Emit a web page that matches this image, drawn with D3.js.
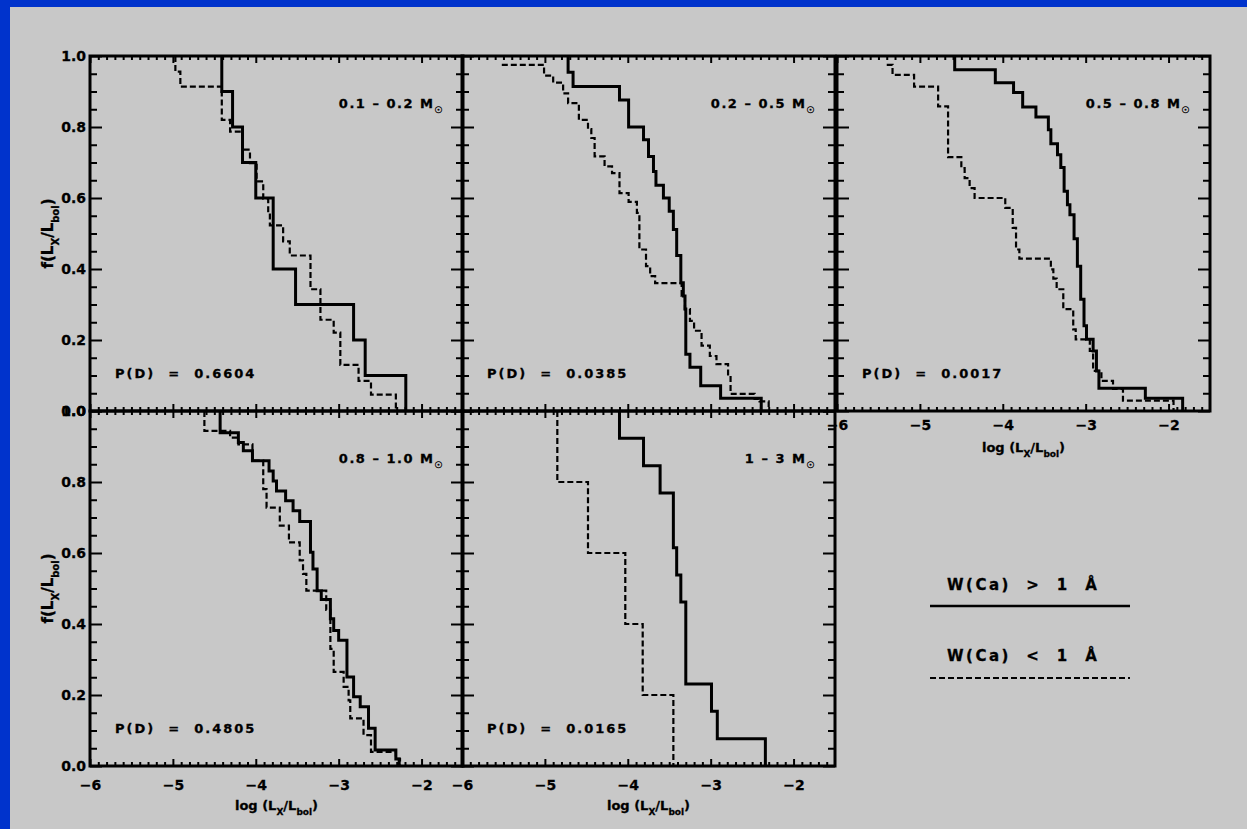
<!DOCTYPE html>
<html>
<head>
<meta charset="utf-8">
<script src="https://cdn.jsdelivr.net/npm/d3@7"></script>
<style>
  html, body { margin: 0; padding: 0; background: #0033cc; }
  svg { display: block; }
  text { font-family: "DejaVu Sans", sans-serif; font-weight: bold; fill: #000; stroke: #000; stroke-width: 0.3; }
</style>
</head>
<body>
<svg id="chart" width="1247" height="829"></svg>
<script>
/* ============================================================
   Cumulative L_X/L_bol distributions, split by W(Ca) — 5 mass bins
   ============================================================ */

// ---- data ----
const massBins = ['0.1 – 0.2', '0.2 – 0.5', '0.5 – 0.8', '0.8 – 1.0', '1 – 3'];
const pValues = ['0.6604', '0.0385', '0.0017', '0.4805', '0.0165'];
const xTicks = [-6, -5, -4, -3, -2];
const yTicks = [0, 0.2, 0.4, 0.6, 0.8, 1.0];
const legendLabels = ['W(Ca) > 1 Å', 'W(Ca) < 1 Å'];

// steps as [log(Lx/Lbol), fraction] — solid: W(Ca) > 1 A, dashed: W(Ca) < 1 A
const solid1 = [[-4.41, 1.0], [-4.41, 0.9], [-4.28, 0.8], [-4.16, 0.7], [-4.00, 0.6], [-3.79, 0.4],
  [-3.52, 0.3], [-2.82, 0.2], [-2.68, 0.1], [-2.19, 0]];
const dashed1 = [[-4.97, 1.0], [-4.97, 0.956], [-4.91, 0.914], [-4.41, 0.820], [-4.31, 0.787], [-4.16, 0.736],
  [-4.07, 0.698], [-3.99, 0.647], [-3.91, 0.598], [-3.85, 0.558], [-3.83, 0.523], [-3.67, 0.478],
  [-3.59, 0.438], [-3.34, 0.343], [-3.22, 0.257], [-3.06, 0.221], [-2.98, 0.130], [-2.76, 0.085],
  [-2.61, 0.046], [-2.31, 0]];

const solid2 = [[-4.72, 1.0], [-4.72, 0.954], [-4.66, 0.914], [-4.10, 0.876], [-3.99, 0.800], [-3.81, 0.764],
  [-3.75, 0.717], [-3.69, 0.675], [-3.66, 0.636], [-3.57, 0.600], [-3.50, 0.563], [-3.45, 0.511],
  [-3.41, 0.438], [-3.36, 0.361], [-3.33, 0.324], [-3.31, 0.287], [-3.30, 0.160], [-3.25, 0.123],
  [-3.12, 0.071], [-2.88, 0.036], [-2.39, 0]];
const dashed2 = [[-5.52, 0.975], [-5.01, 0.945], [-4.90, 0.925], [-4.78, 0.895], [-4.72, 0.867], [-4.59, 0.820],
  [-4.48, 0.794], [-4.44, 0.769], [-4.40, 0.717], [-4.28, 0.689], [-4.19, 0.670], [-4.10, 0.614],
  [-3.99, 0.589], [-3.89, 0.558], [-3.86, 0.455], [-3.78, 0.408], [-3.73, 0.380], [-3.67, 0.360],
  [-3.35, 0.324], [-3.31, 0.287], [-3.25, 0.254], [-3.20, 0.226], [-3.11, 0.184], [-3.01, 0.155],
  [-2.93, 0.132], [-2.79, 0.099], [-2.76, 0.048], [-2.47, 0.034], [-2.41, 0.027], [-2.30, 0]];

const solid3 = [[-4.58, 1.0], [-4.58, 0.961], [-4.09, 0.925], [-3.87, 0.897], [-3.76, 0.856], [-3.60, 0.828],
  [-3.45, 0.792], [-3.42, 0.753], [-3.34, 0.722], [-3.30, 0.686], [-3.26, 0.619], [-3.22, 0.581],
  [-3.19, 0.553], [-3.14, 0.485], [-3.10, 0.408], [-3.06, 0.315], [-3.02, 0.240], [-2.99, 0.202],
  [-2.91, 0.169], [-2.87, 0.113], [-2.84, 0.064], [-2.28, 0.036], [-1.83, 0]];
const dashed3 = [[-5.40, 0.975], [-5.33, 0.947], [-5.07, 0.914], [-4.78, 0.858], [-4.66, 0.715], [-4.50, 0.684],
  [-4.46, 0.656], [-4.40, 0.628], [-4.34, 0.600], [-3.97, 0.572], [-3.88, 0.516], [-3.84, 0.455],
  [-3.80, 0.429], [-3.42, 0.399], [-3.39, 0.373], [-3.35, 0.343], [-3.27, 0.287], [-3.15, 0.230],
  [-3.12, 0.202], [-2.95, 0.169], [-2.91, 0.113], [-2.81, 0.085], [-2.67, 0.062], [-2.55, 0.029],
  [-1.94, 0]];

const solid4 = [[-4.43, 1.0], [-4.43, 0.939], [-4.21, 0.911], [-4.15, 0.888], [-4.04, 0.860], [-3.84, 0.831],
  [-3.79, 0.803], [-3.75, 0.775], [-3.64, 0.747], [-3.55, 0.719], [-3.47, 0.689], [-3.34, 0.602],
  [-3.31, 0.555], [-3.26, 0.494], [-3.21, 0.469], [-3.10, 0.415], [-3.06, 0.382], [-3.00, 0.354],
  [-2.90, 0.251], [-2.82, 0.195], [-2.74, 0.167], [-2.64, 0.106], [-2.56, 0.045], [-2.31, 0.020],
  [-2.27, 0]];
const dashed4 = [[-4.62, 1.0], [-4.62, 0.944], [-4.31, 0.925], [-4.21, 0.906], [-4.04, 0.860], [-3.91, 0.780],
  [-3.87, 0.728], [-3.71, 0.677], [-3.60, 0.630], [-3.47, 0.579], [-3.43, 0.541], [-3.39, 0.494],
  [-3.15, 0.440], [-3.10, 0.330], [-3.06, 0.265], [-2.94, 0.223], [-2.88, 0.185], [-2.86, 0.134],
  [-2.70, 0.087], [-2.61, 0.040], [-2.31, 0.020], [-2.26, 0]];

const solid5 = [[-4.10, 1.0], [-4.10, 0.923], [-3.81, 0.846], [-3.61, 0.769], [-3.45, 0.615], [-3.41, 0.538],
  [-3.36, 0.462], [-3.30, 0.231], [-2.99, 0.154], [-2.92, 0.077], [-2.34, 0]];
const dashed5 = [[-4.85, 1.0], [-4.85, 0.8], [-4.48, 0.6], [-4.03, 0.4], [-3.82, 0.2], [-3.45, 0]];

(() => {
  const W = 1247, H = 829;
  const colX = [90, 462, 837];
  const rowY = [56, 411];
  const pw = 373, ph = 355;
  const fontSize = 13;

  const panels = [
    { col: 0, row: 0, solid: solid1, dashed: dashed1, yLabels: true,  xLabels: false },
    { col: 1, row: 0, solid: solid2, dashed: dashed2, yLabels: false, xLabels: false },
    { col: 2, row: 0, solid: solid3, dashed: dashed3, yLabels: false, xLabels: true  },
    { col: 0, row: 1, solid: solid4, dashed: dashed4, yLabels: true,  xLabels: true  },
    { col: 1, row: 1, solid: solid5, dashed: dashed5, yLabels: false, xLabels: true  },
  ];

  const svg = d3.select('#chart');
  svg.append('rect')
    .attr('x', 10).attr('y', 7).attr('width', W - 10).attr('height', H - 7)
    .attr('fill', '#c8c8c8');

  const x = d3.scaleLinear().domain([-6, -1.5]).range([0, pw]);
  const y = d3.scaleLinear().domain([0, 1]).range([ph, 0]);
  const xMinor = d3.range(-60, -15).map(v => v / 10).filter(v => !Number.isInteger(v));
  const yMinor = d3.range(0, 21).map(v => v / 20).filter(v => (v * 5) % 1 !== 0);

  const step = d3.line()
    .x(d => x(d[0]))
    .y(d => y(d[1]))
    .curve(d3.curveStepAfter);

  // subscript helper: parts = [[text, isSub], ...]
  function richText(sel, parts, subSize) {
    parts.forEach(([t, sub]) => {
      const ts = sel.append('tspan').text(t);
      if (sub) ts.attr('font-size', subSize).attr('baseline-shift', 'sub');
    });
    return sel;
  }

  function styleAxis(g) {
    g.select('.domain').remove();
    g.selectAll('line').attr('stroke', '#000').attr('stroke-width', 2);
    g.attr('font-family', null).attr('font-size', 14);
    g.selectAll('text').attr('fill', '#000');
  }

  panels.forEach((p, i) => {
    const g = svg.append('g')
      .attr('transform', `translate(${colX[p.col]},${rowY[p.row]})`);

    const clipId = 'clip' + i;
    g.append('clipPath').attr('id', clipId)
      .append('rect').attr('width', pw).attr('height', ph);

    // Curves
    const curves = g.append('g').attr('clip-path', `url(#${clipId})`);
    curves.append('path')
      .attr('d', step(p.dashed))
      .attr('fill', 'none').attr('stroke', '#000')
      .attr('stroke-width', 2.2).attr('stroke-dasharray', '6,3');
    curves.append('path')
      .attr('d', step(p.solid))
      .attr('fill', 'none').attr('stroke', '#000')
      .attr('stroke-width', 3);

    // Axes — ticks point inward on all four sides
    g.append('g')
      .call(d3.axisLeft(y).tickValues(yTicks).tickSize(-12).tickPadding(4)
        .tickFormat(p.yLabels ? d3.format('.1f') : ''))
      .call(styleAxis);
    g.append('g')
      .call(d3.axisLeft(y).tickValues(yMinor).tickSize(-7).tickFormat(''))
      .call(styleAxis);
    g.append('g').attr('transform', `translate(${pw},0)`)
      .call(d3.axisRight(y).tickValues(yTicks).tickSize(-12).tickFormat(''))
      .call(styleAxis);
    g.append('g').attr('transform', `translate(${pw},0)`)
      .call(d3.axisRight(y).tickValues(yMinor).tickSize(-7).tickFormat(''))
      .call(styleAxis);
    g.append('g')
      .call(d3.axisTop(x).tickValues(xTicks).tickSize(-7).tickFormat(''))
      .call(styleAxis);
    g.append('g')
      .call(d3.axisTop(x).tickValues(xMinor).tickSize(-4).tickFormat(''))
      .call(styleAxis);
    g.append('g').attr('transform', `translate(0,${ph})`)
      .call(d3.axisBottom(x).tickValues(xTicks).tickSize(-7).tickPadding(p.row === 0 ? 9 : 14)
        .tickFormat(p.xLabels ? d3.format('d') : ''))
      .call(styleAxis);
    g.append('g').attr('transform', `translate(0,${ph})`)
      .call(d3.axisBottom(x).tickValues(xMinor).tickSize(-4).tickFormat(''))
      .call(styleAxis);

    // Frame
    g.append('rect')
      .attr('width', pw).attr('height', ph)
      .attr('fill', 'none').attr('stroke', '#000').attr('stroke-width', 3);

    // Mass bin label
    richText(g.append('text')
      .attr('x', pw - 19).attr('y', 52)
      .attr('text-anchor', 'end')
      .attr('font-size', fontSize)
      .attr('letter-spacing', 1.5),
      [[massBins[i] + ' M', false], ['\u2609', true]], 9);

    // KS probability
    g.append('text')
      .attr('x', 25).attr('y', 322)
      .attr('font-size', fontSize)
      .attr('letter-spacing', 2)
      .style('white-space', 'pre')
      .text('P(D)  =  ' + pValues[i]);

    // Axis titles
    if (p.xLabels) {
      richText(g.append('text')
        .attr('x', pw / 2).attr('y', ph + (p.row === 0 ? 41 : 44))
        .attr('text-anchor', 'middle')
        .attr('font-size', fontSize),
        [['log (L', false], ['X', true], ['/L', false], ['bol', true], [')', false]], 9);
    }
    if (p.yLabels) {
      richText(g.append('text')
        .attr('transform', `translate(-42,${ph / 2}) rotate(-90)`)
        .attr('text-anchor', 'middle')
        .attr('dy', '0.35em')
        .attr('font-size', fontSize + 2),
        [['f(L', false], ['X', true], ['/L', false], ['bol', true], [')', false]], 10);
    }
  });

  // Legend in the empty bottom-right slot
  const lg = svg.append('g').attr('transform', 'translate(930,0)');
  legendLabels.forEach((lab, i) => {
    lg.append('text')
      .attr('x', 17).attr('y', 590 + i * 71)
      .attr('font-size', 15)
      .attr('letter-spacing', 2.5)
      .style('white-space', 'pre')
      .text(lab.replace(/ /g, '  '));
    lg.append('line')
      .attr('x1', 0).attr('x2', 200)
      .attr('y1', 606 + i * 72).attr('y2', 606 + i * 72)
      .attr('stroke', '#000')
      .attr('stroke-width', i === 0 ? 2.5 : 2.2)
      .attr('stroke-dasharray', i === 0 ? null : '6,3');
  });
})();
</script>
</body>
</html>
